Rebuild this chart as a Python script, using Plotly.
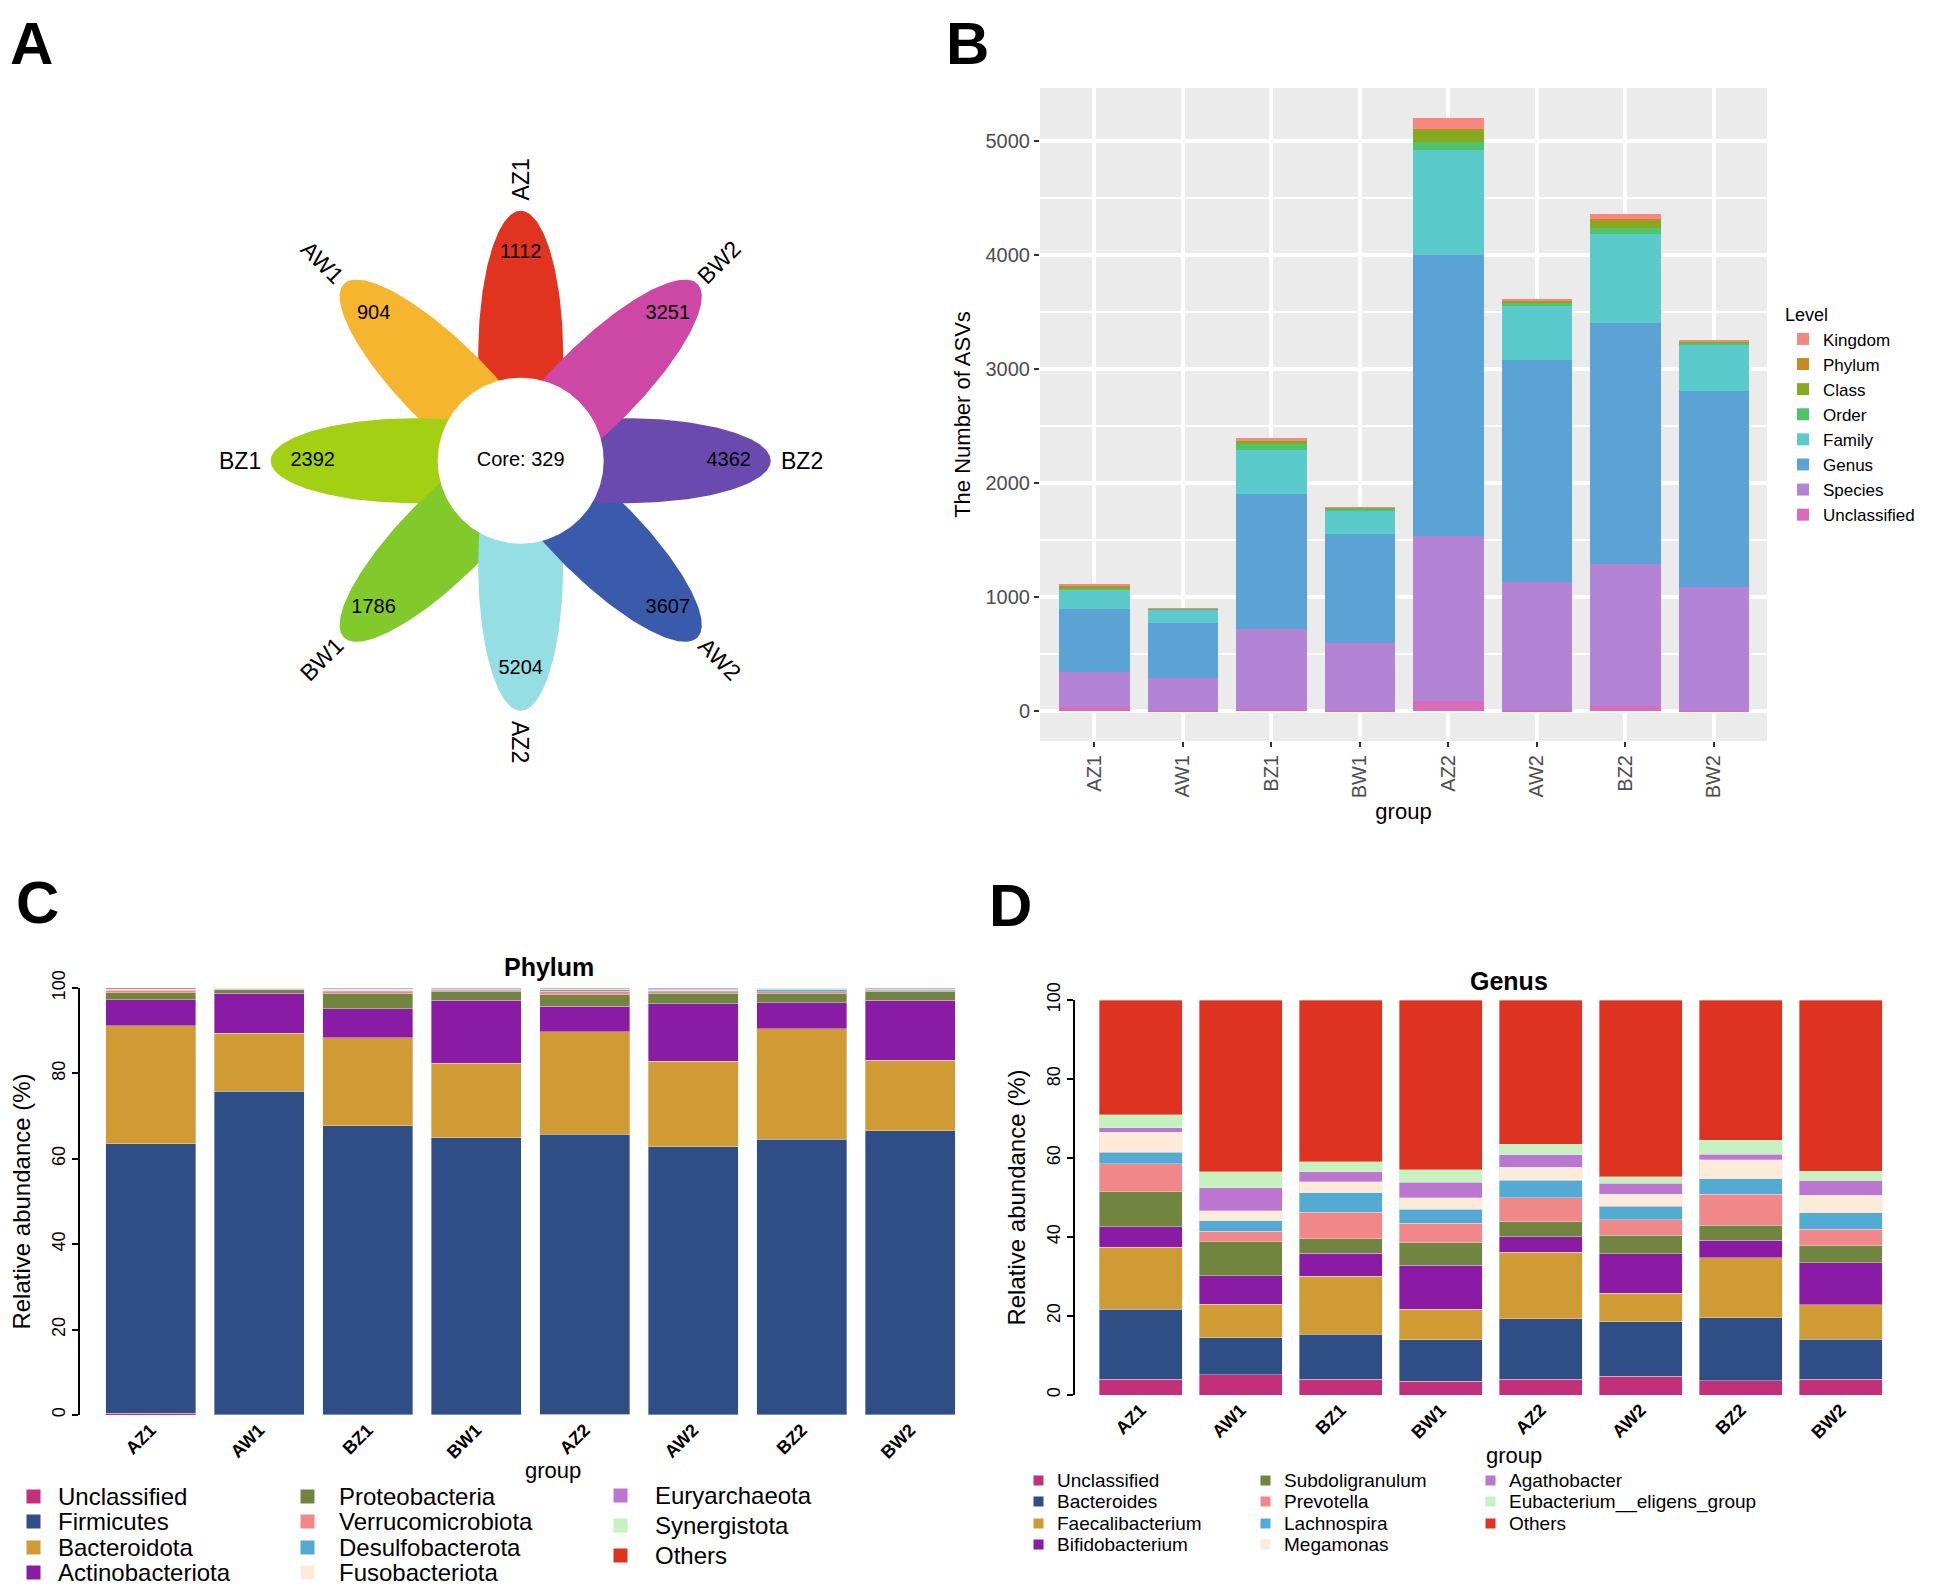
import numpy as np
import plotly.graph_objects as go

W, H = 1936, 1588
OFF = 8  # the page body margin shifts the figure by 8 px; positions below are screen pixels
FONT = "Liberation Sans, Arial, sans-serif"


def px(x):
    return max(0.0, (x - OFF) / W)


def py(y):
    return min(1.0, 1 - (y - OFF) / H)


# ---------------- Panel A : flower plot ----------------
flower_groups = ["AZ1", "AW1", "BZ1", "BW1", "AZ2", "AW2", "BZ2", "BW2"]
flower_counts = [1112, 904, 2392, 1786, 5204, 3607, 4362, 3251]
core_count = 329
flower_colors = ["#E03421", "#F6B52F", "#A4D014", "#82C92B",
                 "#94DEE4", "#3A5AAC", "#6B4AB0", "#CC48A4"]

# ---------------- Panel B : ASV counts by level ----------------
groups = ["AZ1", "AW1", "BZ1", "BW1", "AZ2", "AW2", "BZ2", "BW2"]
asv_kingdom = [11, 2, 16, 1, 100, 8, 50, 5]
asv_phylum = [5, 0, 5, 2, 5, 3, 6, 3]
asv_class = [15, 2, 27, 8, 110, 15, 68, 11]
asv_order = [19, 4, 49, 11, 65, 30, 57, 23]
asv_family = [163, 121, 391, 209, 922, 467, 774, 402]
asv_genus = [554, 479, 1183, 959, 2462, 1953, 2113, 1714]
asv_species = [307, 293, 698, 593, 1453, 1119, 1248, 1090]
asv_unclassified = [38, 3, 23, 3, 87, 12, 46, 3]
level_names = ["Unclassified", "Species", "Genus", "Family", "Order", "Class", "Phylum", "Kingdom"]
level_values = [asv_unclassified, asv_species, asv_genus, asv_family,
                asv_order, asv_class, asv_phylum, asv_kingdom]
level_colors = ["#D86CB7", "#B384D6", "#5CA3D5", "#5BCACA",
                "#4FC46A", "#87A920", "#C58B1F", "#F8877F"]

# ---------------- Panel C : phylum relative abundance ----------------
phylum_names = ["Unclassified", "Firmicutes", "Bacteroidota", "Actinobacteriota",
                "Proteobacteria", "Verrucomicrobiota", "Desulfobacterota",
                "Fusobacteriota", "Euryarchaeota", "Synergistota", "Others"]
ph_unclassified = [0.4, 0.05, 0.1, 0.05, 0.2, 0.1, 0.1, 0.05]
ph_firmicutes = [63.1, 75.75, 67.6, 64.85, 65.5, 62.7, 64.5, 66.55]
ph_bacteroidota = [27.7, 13.6, 20.7, 17.5, 24.1, 20.1, 25.9, 16.5]
ph_actinobacteriota = [6.1, 9.35, 6.8, 14.7, 5.9, 13.4, 6.0, 14.0]
ph_proteobacteria = [1.6, 0.85, 3.5, 2.0, 2.7, 2.45, 2.2, 2.1]
ph_verrucomicrobiota = [0.6, 0.1, 0.4, 0.2, 0.8, 0.35, 0.4, 0.2]
ph_desulfobacterota = [0.1, 0.1, 0.3, 0.4, 0.4, 0.25, 0.6, 0.3]
ph_fusobacteriota = [0.05, 0.05, 0.3, 0.05, 0.1, 0.1, 0.05, 0.05]
ph_euryarchaeota = [0.05, 0.05, 0.05, 0.05, 0.05, 0.3, 0.1, 0.05]
ph_synergistota = [0.05, 0.05, 0.05, 0.05, 0.05, 0.05, 0.05, 0.05]
ph_others = [0.25, 0.05, 0.2, 0.15, 0.2, 0.2, 0.1, 0.15]
phylum_values = [ph_unclassified, ph_firmicutes, ph_bacteroidota, ph_actinobacteriota,
                 ph_proteobacteria, ph_verrucomicrobiota, ph_desulfobacterota,
                 ph_fusobacteriota, ph_euryarchaeota, ph_synergistota, ph_others]

# ---------------- Panel D : genus relative abundance ----------------
genus_names = ["Unclassified", "Bacteroides", "Faecalibacterium", "Bifidobacterium",
               "Subdoligranulum", "Prevotella", "Lachnospira", "Megamonas",
               "Agathobacter", "Eubacterium__eligens_group", "Others"]
ge_unclassified = [4.0, 5.1, 4.0, 3.5, 4.0, 4.7, 3.6, 4.0]
ge_bacteroides = [17.7, 9.4, 11.4, 10.5, 15.3, 13.9, 15.9, 10.1]
ge_faecalibacterium = [15.7, 8.5, 14.7, 7.7, 16.8, 7.2, 15.3, 8.8]
ge_bifidobacterium = [5.2, 7.2, 5.8, 11.2, 4.0, 10.0, 4.4, 10.6]
ge_subdoligranulum = [8.9, 8.6, 3.6, 5.6, 3.7, 4.6, 3.8, 4.4]
ge_prevotella = [7.1, 2.6, 6.8, 5.0, 6.2, 4.0, 7.8, 4.1]
ge_lachnospira = [2.9, 2.7, 4.9, 3.5, 4.4, 3.4, 3.9, 4.2]
ge_megamonas = [5.0, 2.6, 2.8, 2.9, 3.2, 3.0, 4.8, 4.4]
ge_agathobacter = [1.1, 5.8, 2.5, 3.9, 3.2, 2.8, 1.5, 3.7]
ge_eubacterium = [3.3, 4.0, 2.6, 3.2, 2.7, 1.7, 3.5, 2.4]
ge_others = [29.1, 43.5, 40.9, 43.0, 36.5, 44.7, 35.5, 43.3]
genus_values = [ge_unclassified, ge_bacteroides, ge_faecalibacterium, ge_bifidobacterium,
                ge_subdoligranulum, ge_prevotella, ge_lachnospira, ge_megamonas,
                ge_agathobacter, ge_eubacterium, ge_others]

taxa_colors = ["#C2307A", "#2F4E85", "#D09B35", "#8A1BA4", "#728540", "#F08788",
               "#53ABD4", "#FDEBDA", "#BB77CF", "#C5F2BE", "#DF3321"]

fig = go.Figure()

# ---- Panel A traces (xaxis4 / yaxis4, 1 unit = 1 px, origin at flower centre) ----
CX, CY = 520.7, 460.7
petal_c, petal_a, petal_b = 105, 145, 42.5
t = np.linspace(0, 2 * np.pi, 240)
for i, (g, col) in enumerate(zip(flower_groups, flower_colors)):
    th = np.deg2rad(90 + 45 * i)
    lx = petal_c + petal_a * np.cos(t)
    ly = petal_b * np.sin(t)
    X = lx * np.cos(th) - ly * np.sin(th)
    Y = lx * np.sin(th) + ly * np.cos(th)
    fig.add_trace(go.Scatter(x=X, y=Y, fill="toself", fillcolor=col, mode="lines",
                             line=dict(width=0, color=col), showlegend=False,
                             hoverinfo="skip", xaxis="x4", yaxis="y4"))
core_r = 83
fig.add_trace(go.Scatter(x=core_r * np.cos(t), y=core_r * np.sin(t), fill="toself",
                         fillcolor="white", mode="lines", line=dict(width=0, color="white"),
                         showlegend=False, hoverinfo="skip", xaxis="x4", yaxis="y4"))
num_r = 208
ang = np.deg2rad(90 + 45 * np.arange(len(flower_groups)))
fig.add_trace(go.Scatter(x=num_r * np.cos(ang), y=num_r * np.sin(ang), mode="text",
                         text=[str(v) for v in flower_counts],
                         textfont=dict(size=20, color="black", family=FONT),
                         showlegend=False, hoverinfo="skip", xaxis="x4", yaxis="y4"))
fig.add_trace(go.Scatter(x=[0], y=[0], mode="text", text=["Core: %d" % core_count],
                         textfont=dict(size=20, color="black", family=FONT),
                         showlegend=False, hoverinfo="skip", xaxis="x4", yaxis="y4"))

annotations = []
lab_r = 281
for i, g in enumerate(flower_groups):
    thd = 90 + 45 * i
    a = (-thd) % 360
    if a > 180:
        a -= 360
    if a > 90:
        a -= 180
    if a < -90:
        a += 180
    annotations.append(dict(x=lab_r * np.cos(np.deg2rad(thd)), y=lab_r * np.sin(np.deg2rad(thd)),
                            xref="x4", yref="y4", text=g, showarrow=False, textangle=a,
                            font=dict(size=23, color="black", family=FONT)))

# ---- Panel B traces ----
for name, vals, col in zip(level_names, level_values, level_colors):
    fig.add_trace(go.Bar(x=groups, y=vals, name=name, marker=dict(color=col, line=dict(width=0)),
                         width=0.8, xaxis="x", yaxis="y", legend="legend"))

# ---- Panel C traces ----
for name, vals, col in zip(phylum_names, phylum_values, taxa_colors):
    fig.add_trace(go.Bar(x=groups, y=vals, name=name, showlegend=False, width=0.83,
                         marker=dict(color=col, line=dict(width=0.6, color="rgba(230,230,230,0.7)")),
                         xaxis="x2", yaxis="y2"))

# ---- Panel D traces ----
for name, vals, col in zip(genus_names, genus_values, taxa_colors):
    fig.add_trace(go.Bar(x=groups, y=vals, name=name, showlegend=False, width=0.83,
                         marker=dict(color=col, line=dict(width=0.6, color="rgba(230,230,230,0.7)")),
                         xaxis="x3", yaxis="y3"))


# ---- legends for C and D (drawn as text entries) ----
def add_legend_col(names, colors, sw_x, tx_x, rows, size, sw):
    for n, c, yy in zip(names, colors, rows):
        annotations.append(dict(x=px(sw_x), y=py(yy), xref="paper", yref="paper", text=" ",
                                showarrow=False, width=sw, height=sw, bgcolor=c, borderpad=0,
                                xanchor="center", yanchor="middle", font=dict(size=4)))
        annotations.append(dict(x=px(tx_x), y=py(yy), xref="paper", yref="paper", text=n,
                                showarrow=False, xanchor="left", yanchor="middle",
                                font=dict(size=size, color="black", family=FONT)))


add_legend_col(phylum_names[0:4], taxa_colors[0:4], 33, 56, [1496, 1521.5, 1547, 1572], 24, 13)
add_legend_col(phylum_names[4:8], taxa_colors[4:8], 307, 337, [1496, 1521.5, 1547, 1572], 24, 13)
add_legend_col(phylum_names[8:11], taxa_colors[8:11], 620, 653, [1495, 1525, 1555], 24, 13)

add_legend_col(genus_names[0:4], taxa_colors[0:4], 1038, 1055, [1480, 1501.5, 1523, 1544.5], 19, 9)
add_legend_col(genus_names[4:8], taxa_colors[4:8], 1265, 1282, [1480, 1501.5, 1523, 1544.5], 19, 9)
add_legend_col(genus_names[8:11], taxa_colors[8:11], 1490, 1507, [1480, 1501.5, 1523], 19, 9)

# panel letters
for letter, x in [("A", 0), ("B", 944)]:
    annotations.append(dict(x=px(x), y=1, xref="paper", yref="paper",
                            text="<b>%s</b>" % letter, showarrow=False,
                            xanchor="left", yanchor="top",
                            font=dict(size=60, color="black", family=FONT)))
for letter, x, y in [("C", 14, 902), ("D", 987, 905)]:
    annotations.append(dict(x=px(x), y=py(y), xref="paper", yref="paper",
                            text="<b>%s</b>" % letter, showarrow=False,
                            xanchor="left", yanchor="middle",
                            font=dict(size=60, color="black", family=FONT)))
# titles and group labels
annotations.append(dict(x=px(549), y=py(967), xref="paper", yref="paper", text="<b>Phylum</b>",
                        showarrow=False, xanchor="center", yanchor="middle",
                        font=dict(size=25, color="black", family=FONT)))
annotations.append(dict(x=px(1509), y=py(981), xref="paper", yref="paper", text="<b>Genus</b>",
                        showarrow=False, xanchor="center", yanchor="middle",
                        font=dict(size=25, color="black", family=FONT)))
annotations.append(dict(x=px(553), y=py(1470), xref="paper", yref="paper", text="group",
                        showarrow=False, xanchor="center", yanchor="middle",
                        font=dict(size=22, color="black", family=FONT)))
annotations.append(dict(x=px(1514), y=py(1455), xref="paper", yref="paper", text="group",
                        showarrow=False, xanchor="center", yanchor="middle",
                        font=dict(size=22, color="black", family=FONT)))

base_tick = dict(family=FONT, size=18, color="black")

# panel A axis ranges: domain covers screen px [OFF, 890] x [OFF, 800]
a_x0, a_x1 = OFF, 890
a_y0, a_y1 = OFF, 800

fig.update_layout(
    width=W, height=H,
    margin=dict(l=0, r=0, t=0, b=0, autoexpand=False),
    paper_bgcolor="white", plot_bgcolor="rgba(0,0,0,0)",
    barmode="stack",
    font=dict(family=FONT, color="black"),
    annotations=annotations,
    shapes=[dict(type="rect", xref="x domain", yref="y domain", x0=0, x1=1, y0=0, y1=1,
                 fillcolor="#EBEBEB", line=dict(width=0), layer="below")],
    legend=dict(x=px(1783), y=py(298), xanchor="left", yanchor="top",
                traceorder="reversed", bgcolor="rgba(0,0,0,0)", itemwidth=30,
                font=dict(size=17, color="black", family=FONT),
                title=dict(text="Level", font=dict(size=18, color="black", family=FONT))),
    # Panel B
    xaxis=dict(domain=[px(1040), px(1767)], range=[-0.615, 7.6], anchor="y", automargin=False,
               showgrid=True, gridcolor="white", gridwidth=3.5, zeroline=False,
               ticks="outside", ticklen=5, tickwidth=1.5, tickcolor="#333333",
               tickangle=-90, tickfont=dict(family=FONT, size=20, color="#4D4D4D"),
               title=dict(text="group", standoff=6, font=dict(family=FONT, size=22, color="black"))),
    yaxis=dict(domain=[py(741), py(88)], range=[-260, 5464], anchor="x", automargin=False,
               tick0=0, dtick=1000, showgrid=True, gridcolor="white", gridwidth=3.5,
               minor=dict(dtick=500, showgrid=True, gridcolor="white", gridwidth=1.6),
               zeroline=False, ticks="outside", ticklen=5, tickwidth=1.5, tickcolor="#333333",
               tickfont=dict(family=FONT, size=20, color="#4D4D4D"),
               title=dict(text="The Number of ASVs", standoff=8,
                          font=dict(family=FONT, size=22, color="black"))),
    # Panel C
    xaxis2=dict(domain=[px(80), px(960)], range=[-0.652, 7.459], anchor="y2", automargin=False,
                showgrid=False, zeroline=False, showline=False, ticks="",
                tickangle=-45, tickfont=dict(family=FONT, size=18, color="black", weight="bold")),
    yaxis2=dict(domain=[py(1415), py(988)], range=[0, 100], anchor="x2", automargin=False,
                showgrid=False, zeroline=False, showline=True, linecolor="black", linewidth=1.5,
                ticks="outside", ticklen=6, tickwidth=1.5, tickcolor="black",
                tickvals=[0, 20, 40, 60, 80, 100], tickangle=-90, tickfont=base_tick,
                title=dict(text="Relative abundance (%)", standoff=12,
                           font=dict(family=FONT, size=24, color="black"))),
    # Panel D
    xaxis3=dict(domain=[px(1075), px(1887)], range=[-0.657, 7.463], anchor="y3", automargin=False,
                showgrid=False, zeroline=False, showline=False, ticks="",
                tickangle=-45, tickfont=dict(family=FONT, size=18, color="black", weight="bold")),
    yaxis3=dict(domain=[py(1395), py(1000)], range=[0, 100], anchor="x3", automargin=False,
                showgrid=False, zeroline=False, showline=True, linecolor="black", linewidth=1.5,
                ticks="outside", ticklen=6, tickwidth=1.5, tickcolor="black",
                tickvals=[0, 20, 40, 60, 80, 100], tickangle=-90, tickfont=base_tick,
                title=dict(text="Relative abundance (%)", standoff=12,
                           font=dict(family=FONT, size=24, color="black"))),
    # Panel A
    xaxis4=dict(domain=[px(a_x0), px(a_x1)], range=[a_x0 - CX, a_x1 - CX], anchor="y4",
                visible=False, fixedrange=True, automargin=False),
    yaxis4=dict(domain=[py(a_y1), py(a_y0)], range=[CY - a_y1, CY - a_y0], anchor="x4",
                visible=False, fixedrange=True, automargin=False),
)

fig.write_html("out.html")
